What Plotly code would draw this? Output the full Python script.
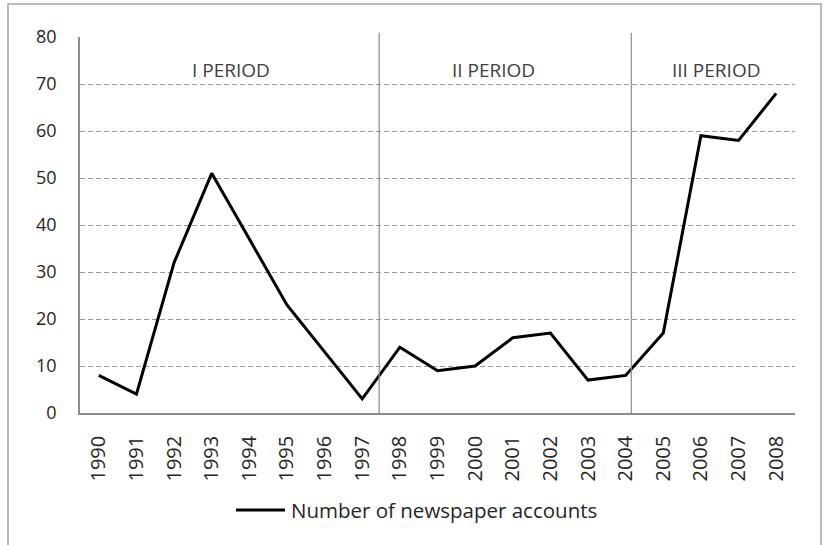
import plotly.graph_objects as go

years = [str(y) for y in range(1990, 2009)]
accounts = [8, 4, 32, 51, 37, 23, 13, 3, 14, 9, 10, 16, 17, 7, 8, 17, 59, 58, 68]
series_name = "Number of newspaper accounts"
period_labels = ["I PERIOD", "II PERIOD", "III PERIOD"]
period_label_x = [3.5, 10.5, 16.4]
period_bounds = [7.45, 14.15]
y_ticks = [0, 10, 20, 30, 40, 50, 60, 70, 80]

PW, PH = 715, 376  # plot area size in px
L, T = 80, 37


def px_x(p):
    return (p - L) / PW


def px_y(p):
    return (T + PH - p) / PH


idx = list(range(len(years)))
fig = go.Figure()
fig.add_trace(go.Scatter(x=idx, y=accounts, mode="lines", name=series_name,
                         line=dict(color="black", width=3), showlegend=False))

shapes = []
for b in period_bounds:
    shapes.append(dict(type="line", xref="x", yref="paper", x0=b, x1=b, y0=0, y1=1.011,
                       line=dict(color="#8c8c8c", width=1.2)))
# outer chart border
shapes.append(dict(type="rect", xref="paper", yref="paper", x0=px_x(8), x1=px_x(821),
                   y0=px_y(550), y1=px_y(4), line=dict(color="#a6a6a6", width=1.5), layer="below"))
# legend sample line
shapes.append(dict(type="line", xref="paper", yref="paper", x0=px_x(236), x1=px_x(285),
                   y0=px_y(510), y1=px_y(510), line=dict(color="black", width=3)))

annotations = []
for t, x in zip(period_labels, period_label_x):
    annotations.append(dict(x=x, y=73, xref="x", yref="y", text=t, showarrow=False,
                            font=dict(size=19, color="#404040", family="Open Sans")))
annotations.append(dict(x=px_x(289), y=px_y(510), xref="paper", yref="paper", text=series_name,
                        showarrow=False, xanchor="left", yanchor="middle",
                        font=dict(size=20.5, color="#262626", family="Open Sans")))

fig.update_layout(
    width=824, height=545,
    margin=dict(l=L, r=824 - L - PW, t=T, b=545 - T - PH),
    paper_bgcolor="white", plot_bgcolor="white",
    shapes=shapes, annotations=annotations,
    showlegend=False,
    font=dict(family="Open Sans", color="#262626"),
)
fig.update_xaxes(range=[-0.5, 18.5], tickmode="array", tickvals=idx, ticktext=years,
                 tickangle=-90, showgrid=False, zeroline=False, showline=True,
                 linecolor="#8c8c8c", linewidth=1.5, tickfont=dict(size=20, color="#262626"),
                 ticks="", ticklabelstandoff=13, automargin=False)
fig.update_yaxes(range=[0, 80], tickmode="array", tickvals=y_ticks, showgrid=True,
                 gridcolor="#9a9a9a", griddash="5px,3px", gridwidth=1, zeroline=False,
                 showline=True, linecolor="#8c8c8c", linewidth=1.5,
                 tickfont=dict(size=18, color="#262626"), ticks="", ticklabelstandoff=18,
                 automargin=False)

fig.write_html("out.html", config={"displayModeBar": False},
               post_script="document.body.style.margin='0';document.body.style.overflow='hidden';")
